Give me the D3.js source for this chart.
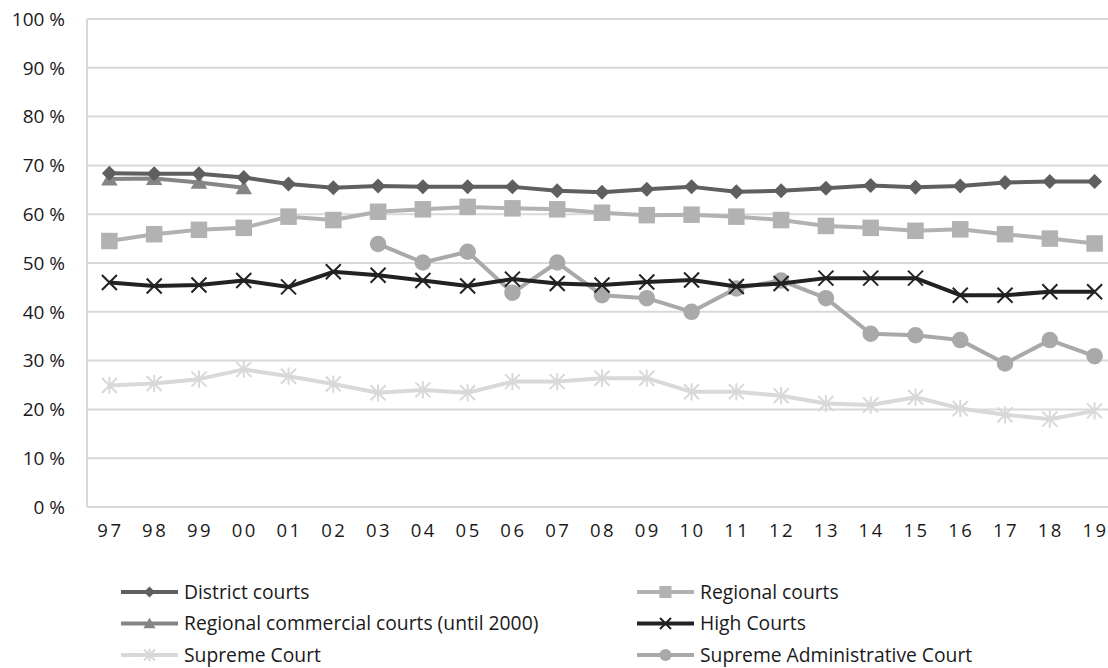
<!DOCTYPE html>
<html>
<head>
<meta charset="utf-8">
<script src="https://cdn.jsdelivr.net/npm/d3@7"></script>
<style>
  body { margin: 0; background: #fff; }
  svg text { font-family: "Open Sans", "Lato", sans-serif; fill: #1a1a1a; }
</style>
</head>
<body>
<svg width="1108" height="668"></svg>
<script>
// years on the x axis
let years = ["97", "98", "99", "00", "01", "02", "03", "04", "05", "06", "07", "08",
    "09", "10", "11", "12", "13", "14", "15", "16", "17", "18", "19"];
let yTicks = [0, 10, 20, 30, 40, 50, 60, 70, 80, 90, 100];

// values in percent, null = no data
let districtCourts = [68.4, 68.3, 68.3, 67.5, 66.2, 65.4, 65.8, 65.6, 65.6, 65.6, 64.8, 64.5,
    65.1, 65.6, 64.6, 64.8, 65.3, 65.9, 65.5, 65.8, 66.5, 66.7, 66.7];
let regionalCourts = [54.5, 55.9, 56.8, 57.2, 59.5, 58.8, 60.5, 61.0, 61.5, 61.2, 61.0, 60.3,
    59.8, 59.9, 59.5, 58.8, 57.6, 57.2, 56.6, 56.9, 55.9, 55.0, 54.0];
let regionalCommercial = [67.2, 67.3, 66.5, 65.4, null, null, null, null, null, null, null, null,
    null, null, null, null, null, null, null, null, null, null, null];
let highCourts = [46.0, 45.3, 45.5, 46.4, 45.1, 48.2, 47.5, 46.4, 45.3, 46.7, 45.8, 45.5,
    46.1, 46.5, 45.2, 45.8, 46.9, 46.9, 46.9, 43.4, 43.4, 44.1, 44.1];
let supremeCourt = [24.9, 25.3, 26.2, 28.2, 26.8, 25.2, 23.4, 24.0, 23.4, 25.7, 25.7, 26.4,
    26.4, 23.6, 23.6, 22.8, 21.2, 20.9, 22.5, 20.2, 18.9, 18.0, 19.7];
let supremeAdmin = [null, null, null, null, null, null, 53.9, 50.1, 52.3, 43.9, 50.1, 43.4,
    42.8, 40.0, 44.8, 46.4, 42.8, 35.5, 35.2, 34.2, 29.4, 34.2, 30.9];

// drawing order: back to front
let series = [
    { name: "Supreme Court", values: supremeCourt, color: "#d9d9d9", marker: "asterisk" },
    { name: "Supreme Administrative Court", values: supremeAdmin, color: "#a9a9a9", marker: "circle" },
    { name: "High Courts", values: highCourts, color: "#222222", marker: "cross" },
    { name: "Regional courts", values: regionalCourts, color: "#b2b2b2", marker: "square" },
    { name: "Regional commercial courts (until 2000)", values: regionalCommercial, color: "#858585", marker: "triangle" },
    { name: "District courts", values: districtCourts, color: "#5f5f5f", marker: "diamond" }
];

let legendOrder = ["District courts", "Regional courts", "Regional commercial courts (until 2000)",
    "High Courts", "Supreme Court", "Supreme Administrative Court"];

let svg = d3.select("svg");
let margin = { top: 19, left: 87 },
    plotW = 1030,
    plotH = 488;

let x = d3.scaleBand().domain(years).range([0, plotW]);
let y = d3.scaleLinear().domain([0, 100]).range([plotH, 0]);

let g = svg.append("g")
    .attr("transform", "translate(" + margin.left + "," + margin.top + ")");

// gridlines
g.selectAll(".grid")
    .data(yTicks)
    .enter().append("line")
    .attr("x1", 0).attr("x2", plotW)
    .attr("y1", d => y(d)).attr("y2", d => y(d))
    .attr("stroke", "#d9d9d9").attr("stroke-width", 2);

g.append("line")
    .attr("x1", 0).attr("x2", 0)
    .attr("y1", 0).attr("y2", plotH)
    .attr("stroke", "#d9d9d9").attr("stroke-width", 2);

// y labels
g.selectAll(".ylab")
    .data(yTicks)
    .enter().append("text")
    .attr("x", -22)
    .attr("y", d => y(d))
    .attr("dy", "0.36em")
    .attr("text-anchor", "end")
    .style("font-size", "19px")
    .text(d => d + " %");

// x labels
g.selectAll(".xlab")
    .data(years)
    .enter().append("text")
    .attr("x", d => x(d) + x.bandwidth() / 2 + 1)
    .attr("y", plotH + 30)
    .attr("text-anchor", "middle")
    .style("font-size", "18.5px")
    .style("letter-spacing", "2.5px")
    .text(d => d);

function drawMarker(sel, type, color, s) {
    if (type === "diamond") {
        sel.append("path").attr("d", `M0,${-s}L${s},0L0,${s}L${-s},0Z`).attr("fill", color);
    } else if (type === "square") {
        sel.append("rect").attr("x", -s * 1.1).attr("y", -s * 1.1)
            .attr("width", s * 2.2).attr("height", s * 2.2).attr("fill", color);
    } else if (type === "triangle") {
        sel.append("path").attr("d", `M0,${-s * 1.05}L${s * 1.1},${s * 0.85}L${-s * 1.1},${s * 0.85}Z`).attr("fill", color);
    } else if (type === "circle") {
        sel.append("circle").attr("r", s * 1.1).attr("fill", color);
    } else if (type === "cross") {
        sel.append("path").attr("d", `M${-s},${-s}L${s},${s}M${-s},${s}L${s},${-s}`)
            .attr("stroke", color).attr("stroke-width", 2).attr("fill", "none");
    } else if (type === "asterisk") {
        sel.append("path").attr("d", `M${-s},${-s}L${s},${s}M${-s},${s}L${s},${-s}M0,${-s * 1.15}L0,${s * 1.15}`)
            .attr("stroke", color).attr("stroke-width", 2).attr("fill", "none");
    }
}

let line = d3.line()
    .defined(d => d.v !== null)
    .x(d => x(d.year) + x.bandwidth() / 2)
    .y(d => y(d.v));

series.forEach(s => {
    let pts = years.map((yr, i) => ({ year: yr, v: s.values[i] }));
    g.append("path")
        .datum(pts)
        .attr("d", line)
        .attr("fill", "none")
        .attr("stroke", s.color)
        .attr("stroke-width", 4)
        .attr("stroke-linejoin", "round");

    g.selectAll(null)
        .data(pts.filter(d => d.v !== null))
        .enter().append("g")
        .attr("transform", d => "translate(" + (x(d.year) + x.bandwidth() / 2) + "," + y(d.v) + ")")
        .each(function () { drawMarker(d3.select(this), s.marker, s.color, 7.5); });
});

// legend
let legend = svg.append("g");
legendOrder.forEach((name, i) => {
    let s = series.find(d => d.name === name);
    let col = i % 2, row = Math.floor(i / 2);
    let lx = col === 0 ? 121 : 637,
        ly = 592 + row * 31.5;
    let item = legend.append("g").attr("transform", "translate(" + lx + "," + ly + ")");
    item.append("line")
        .attr("x1", 0).attr("x2", 57)
        .attr("stroke", s.color).attr("stroke-width", 4);
    let m = item.append("g").attr("transform", "translate(28.5,0)");
    drawMarker(m, s.marker, s.color, 5.5);
    item.append("text")
        .attr("x", 63)
        .attr("dy", "0.36em")
        .style("font-size", "19.3px")
        .text(name);
});
</script>
</body>
</html>
